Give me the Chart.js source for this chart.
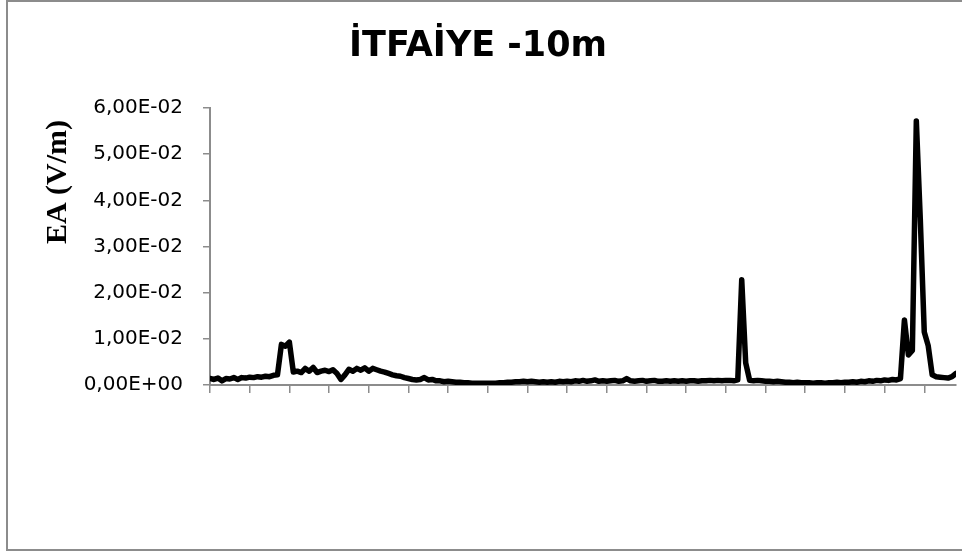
<!DOCTYPE html>
<html>
<head>
<meta charset="utf-8">
<title>İTFAİYE -10m</title>
<script src="https://cdn.jsdelivr.net/npm/chart.js@4/dist/chart.umd.min.js"></script>
<style>
  html, body { margin: 0; padding: 0; background: #fff; overflow: hidden; }
  #wrap { position: relative; width: 962px; height: 551px; overflow: hidden; }
  #myChart { position: absolute; left: 0; top: 0; }
  .frame {
    position: absolute; left: 6px; top: 0; width: 1000px; height: 547px;
    border: 2px solid #8c8c8c; pointer-events: none;
  }
</style>
</head>
<body>
<div id="wrap">
  <canvas id="myChart" width="975" height="551"></canvas>
  <div class="frame"></div>
</div>
<script>
const chartTitle = "İTFAİYE -10m";
const yTitle = "EA (V/m)";

// electric field readings, one per sample
const ea = [
  0.0014, 0.0012, 0.0015, 0.0009, 0.0014, 0.0013, 0.0016, 0.0012, 0.0016, 0.0015,
  0.0017, 0.0016, 0.0018, 0.0017, 0.0019, 0.0018, 0.0021, 0.0022, 0.0088, 0.0084,
  0.0093, 0.0028, 0.0030, 0.0027, 0.0036, 0.0030, 0.0038, 0.0027, 0.0030, 0.0032,
  0.0029, 0.0033, 0.0025, 0.0012, 0.0022, 0.0034, 0.0030, 0.0036, 0.0032, 0.0037,
  0.0030, 0.0036, 0.0033, 0.0030, 0.0028, 0.0025, 0.0022, 0.0020, 0.0019, 0.0016,
  0.0014, 0.0012, 0.0011, 0.0012, 0.0016, 0.0011, 0.0012, 0.0009, 0.0009, 0.0007,
  0.0008, 0.0007, 0.0006, 0.0006, 0.0005, 0.0005, 0.0004, 0.0004, 0.0004, 0.0004,
  0.0004, 0.0004, 0.0004, 0.0005, 0.0005, 0.0006, 0.0006, 0.0007, 0.0007, 0.0008,
  0.0007, 0.0008, 0.0007, 0.0006, 0.0007, 0.0006, 0.0007, 0.0006, 0.0008, 0.0007,
  0.0008, 0.0007, 0.0009, 0.0008, 0.0010, 0.0008, 0.0009, 0.0011, 0.0008, 0.0009,
  0.0008, 0.0009, 0.0010, 0.0008, 0.0009, 0.0014, 0.0009, 0.0008, 0.0009, 0.0010,
  0.0008, 0.0009, 0.0010, 0.0008, 0.0008, 0.0009, 0.0008, 0.0009, 0.0008, 0.0009,
  0.0008, 0.0009, 0.0009, 0.0008, 0.0009, 0.0009, 0.0010, 0.0009, 0.0010, 0.0009,
  0.0010, 0.0010, 0.0009, 0.0011, 0.0228, 0.0048, 0.0010, 0.0009, 0.0010, 0.0009,
  0.0008, 0.0008, 0.0007, 0.0008, 0.0007, 0.0006, 0.0006, 0.0005, 0.0006, 0.0005,
  0.0005, 0.0005, 0.0004, 0.0005, 0.0005, 0.0004, 0.0005, 0.0005, 0.0006, 0.0005,
  0.0006, 0.0006, 0.0007, 0.0006, 0.0008, 0.0007, 0.0009, 0.0008, 0.0010, 0.0009,
  0.0011, 0.0010, 0.0012, 0.0011, 0.0014, 0.0141, 0.0065, 0.0075, 0.0572, 0.0360,
  0.0115, 0.0085, 0.0022, 0.0018, 0.0017, 0.0016, 0.0015, 0.0018, 0.0025
];
const samples = ea.map((v, i) => i);

const yMin = 0;
const yMax = 0.06;
const yStep = 0.01;
const xTickStep = 10;

const axisGray = "#8c8c8c";

// 6.00e-2 -> "6,00E-02"
const sciLabel = (v) => {
  let parts = Math.abs(v) < 1e-12 ? ["0.00", "+0"] : v.toExponential(2).split("e");
  let exp = parseInt(parts[1], 10);
  let sign = exp < 0 ? "-" : "+";
  let digits = String(Math.abs(exp)).padStart(2, "0");
  return parts[0].replace(".", ",") + "E" + sign + digits;
};

// rotated axis title on the left
const yTitlePlugin = {
  id: "yTitle",
  afterDraw(chart) {
    const ctx = chart.ctx;
    ctx.save();
    ctx.translate(58, 182);
    ctx.rotate(-Math.PI / 2);
    ctx.font = "bold 30px 'Liberation Serif', 'Times New Roman', serif";
    ctx.fillStyle = "#000";
    ctx.textAlign = "center";
    ctx.textBaseline = "middle";
    ctx.fillText(yTitle, 0, 0);
    ctx.restore();
  },
};

const ctx = document.getElementById("myChart").getContext("2d");
const myChart = new Chart(ctx, {
  type: "line",
  data: {
    datasets: [
      {
        data: samples.map((s, i) => ({ x: s, y: ea[i] })),
        borderColor: "#000",
        borderWidth: 5.5,
        borderJoinStyle: "round",
        borderCapStyle: "round",
        pointRadius: 0,
        tension: 0,
        fill: false,
      },
    ],
  },
  options: {
    responsive: false,
    animation: false,
    devicePixelRatio: 1,
    layout: { padding: { left: 0, right: 19, top: 0, bottom: 0 } },
    plugins: {
      legend: { display: false },
      tooltip: { enabled: false },
      title: {
        display: true,
        text: chartTitle,
        color: "#000",
        font: { family: "'DejaVu Sans', sans-serif", size: 35, weight: "bold", lineHeight: 1.2 },
        padding: { top: 26, bottom: 40 },
      },
    },
    scales: {
      x: {
        type: "linear",
        min: 0,
        max: samples.length - 1,
        grid: {
          drawOnChartArea: false,
          color: axisGray,
          lineWidth: 1.5,
          tickLength: 8,
        },
        border: { color: axisGray, width: 2 },
        ticks: {
          stepSize: xTickStep,
          includeBounds: false,
          callback: () => "",
        },
        afterFit: (scale) => {
          scale.height = 166;
        },
      },
      y: {
        min: yMin,
        max: yMax,
        grid: {
          drawOnChartArea: false,
          color: axisGray,
          lineWidth: 1.5,
          tickLength: 7,
        },
        border: { color: axisGray, width: 2 },
        ticks: {
          stepSize: yStep,
          padding: 20,
          color: "#000",
          font: { family: "'DejaVu Sans', sans-serif", size: 20 },
          callback: (v) => sciLabel(v),
        },
        afterFit: (scale) => {
          scale.width = 210;
        },
      },
    },
  },
  plugins: [yTitlePlugin],
});
</script>
</body>
</html>
